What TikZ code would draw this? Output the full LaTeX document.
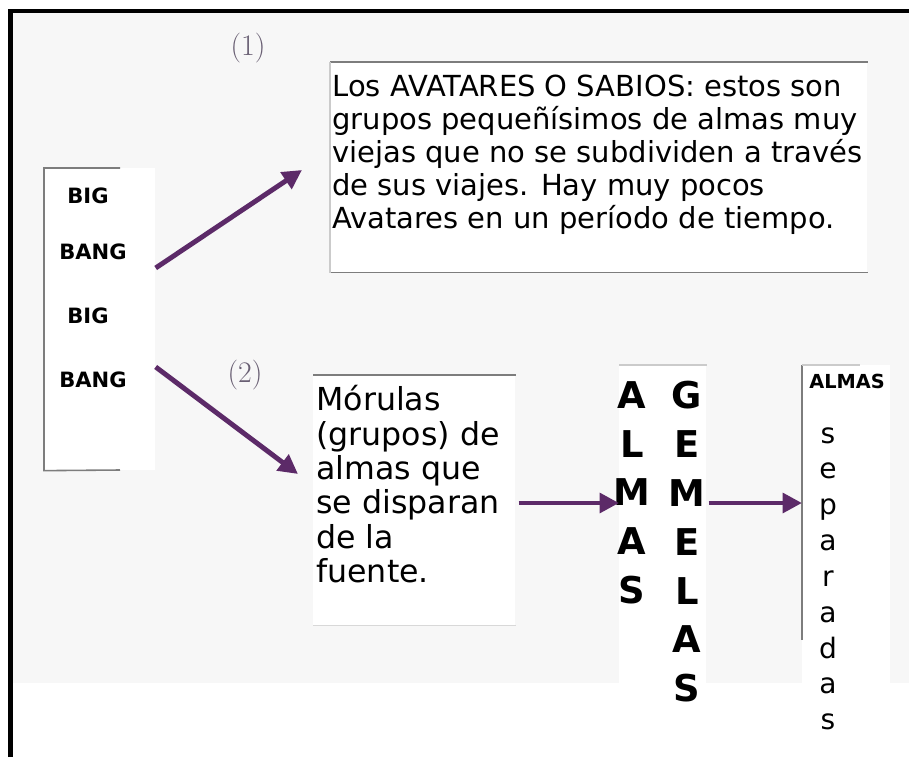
\documentclass[tikz,border=0pt]{standalone}
\usepackage{fontspec}
\usepackage{xcolor}
\usepackage{tikz}
\usetikzlibrary{arrows.meta}
\newfontfamily\sansfam{DejaVu Sans}

\definecolor{violeta}{RGB}{92,42,104}
\definecolor{fondo}{RGB}{247,247,247}
\definecolor{gris}{RGB}{125,125,125}
\definecolor{grisnum}{RGB}{105,95,115}

\tikzset{
  flecha/.style={-{Triangle[length=11pt,width=11pt]}, line width=2.8pt, violeta},
  caja/.style={fill=white, inner sep=0pt, anchor=north west},
  filo/.style={gris, line width=0.9pt},
  texto/.style={inner sep=0pt, anchor=north west, align=left},
  letra/.style={inner sep=0pt, anchor=north, align=center}
}

\begin{document}
\begin{tikzpicture}[x=0.02cm, y=-0.02cm]

\useasboundingbox (0,0) rectangle (909,757);
\fill[fondo] (12,13) rectangle (909,683);
\draw[line width=2.6pt] (10.5,757) -- (10.5,11) -- (909,11);

% big bang
\node[caja, minimum width=2.22cm, minimum height=6.04cm] (bigbang) at (44,168) {};
\draw[filo] (120,168) -- (bigbang.north west) -- (bigbang.south west) -- (120,470);
\node[font=\sansfam\bfseries\fontsize{12}{14}\selectfont] (big1) at (88,196) {BIG};
\node[font=\sansfam\bfseries\fontsize{12}{14}\selectfont] (bang1) at (93,252) {BANG};
\node[font=\sansfam\bfseries\fontsize{12}{14}\selectfont] (big2) at (88,316) {BIG};
\node[font=\sansfam\bfseries\fontsize{12}{14}\selectfont] (bang2) at (93,380) {BANG};

\node[grisnum, font=\fontsize{17}{19}\selectfont] (uno) at (248,48) {(1)};
\node[grisnum, font=\fontsize{17}{19}\selectfont] (dos) at (245,375) {(2)};

% avatares
\node[caja, minimum width=10.74cm, minimum height=4.2cm] (avatar) at (330,62) {};
\draw[filo] (avatar.north west) -- (avatar.north east);
\draw[filo] (avatar.south west) -- (avatar.south east);
\draw[gris!40, line width=0.6pt] (avatar.north west) -- (avatar.south west);
\node[texto, font=\sansfam\fontsize{16.5}{18.7}\selectfont] (avatartxt) at (332,75)
  {Los AVATARES O SABIOS: estos son\\
   grupos pequeñísimos de almas muy\\
   viejas que no se subdividen a través\\
   de sus viajes. Hay muy pocos\\
   Avatares en un período de tiempo.};

% morulas
\node[caja, minimum width=4.04cm, minimum height=5.0cm] (morula) at (313,375) {};
\draw[filo] (morula.north west) -- (morula.north east);
\draw[gris!30, line width=0.6pt] (morula.south west) -- (morula.south east);
\node[texto, font=\sansfam\fontsize{18}{19.6}\selectfont] (morulatxt) at (316,385)
  {Mórulas\\
   (grupos) de\\
   almas que\\
   se disparan\\
   de la\\
   fuente.};

% almas gemelas
\node[caja, minimum width=1.74cm, minimum height=6.36cm] (gemelas) at (619,365) {};
\draw[gris!40, line width=0.6pt] (gemelas.north west) -- (gemelas.north east);
\node[letra, font=\sansfam\bfseries\fontsize{21}{27.8}\selectfont] (almas) at (632,381)
  {A\\L\\M\\A\\S};
\node[letra, font=\sansfam\bfseries\fontsize{21}{27.8}\selectfont] (gemelastxt) at (687,381)
  {G\\E\\M\\E\\L\\A\\S};

% almas separadas
\node[caja, minimum width=1.76cm, minimum height=6.36cm] (separadas) at (802,365) {};
\draw[filo] (separadas.north west) -- (802,640);
\draw[gris!40, line width=0.6pt] (separadas.north west) -- (860,365);
\node[font=\sansfam\bfseries\fontsize{11}{13}\selectfont] (almas2) at (847,381) {ALMAS};
\node[letra, font=\sansfam\fontsize{16}{20.4}\selectfont] (separadastxt) at (828,427)
  {s\\e\\p\\a\\r\\a\\d\\a\\s};

% flechas
\coordinate (p1) at (302,170);
\coordinate (p2) at (298,474);
\coordinate (nivel) at (0,503);
\draw[flecha] ([yshift=-2cm]bigbang.north east) -- (p1);
\draw[flecha] ([yshift=-3.98cm]bigbang.north east) -- (p2);
\draw[flecha] ([xshift=0.06cm]morula.east |- nivel) -- (gemelas.west |- nivel);
\draw[flecha] ([xshift=0.04cm]gemelas.east |- nivel) -- (separadas.west |- nivel);

\end{tikzpicture}
\end{document}
